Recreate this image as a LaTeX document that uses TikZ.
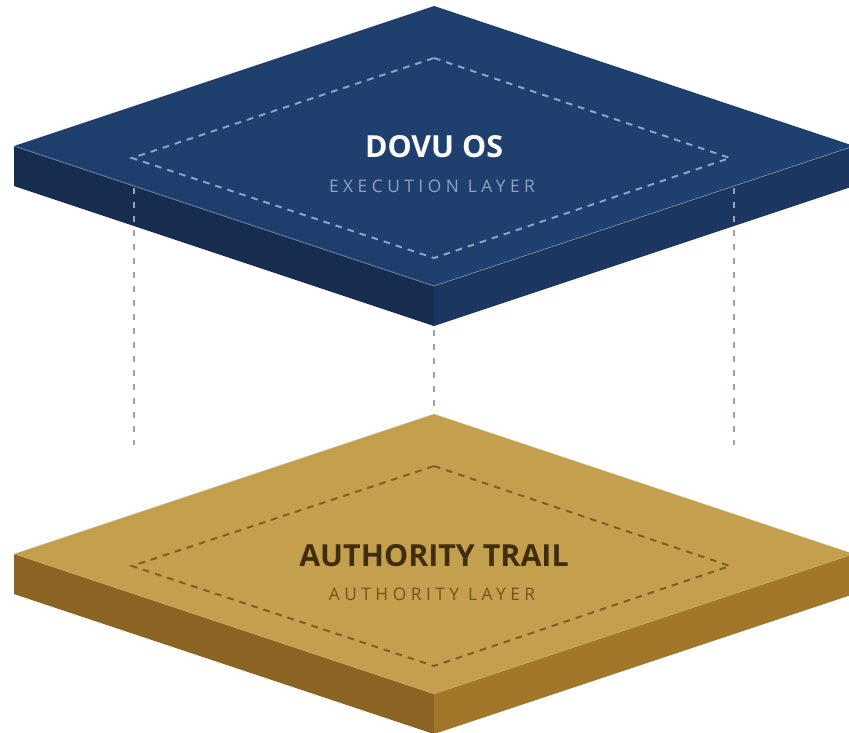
\documentclass[tikz,border=0pt]{standalone}
\usepackage{fontspec}
\setmainfont{Open Sans}
\newfontfamily\spacedfont[LetterSpace=26]{Open Sans}
\usetikzlibrary{positioning,calc}
\definecolor{navytop}{HTML}{1F3F6F}
\definecolor{navyleft}{HTML}{172D50}
\definecolor{navyright}{HTML}{1B3761}
\definecolor{navyline}{HTML}{8EA2C2}
\definecolor{goldtop}{HTML}{C4A04E}
\definecolor{goldleft}{HTML}{8B6423}
\definecolor{goldright}{HTML}{A37729}
\definecolor{goldline}{HTML}{7F5E28}
\definecolor{goldtext}{HTML}{3F2D0E}
\definecolor{goldsub}{HTML}{70551F}
\definecolor{guidegrey}{HTML}{9BA3AF}
\tikzstyle{title} = [inner sep=0pt, anchor=base, font=\fontsize{22.8}{26}\selectfont\bfseries]
\tikzstyle{sub} = [inner sep=0pt, anchor=base, font=\spacedfont\fontsize{13}{15}\selectfont]
\tikzstyle{inner} = [line width=1.5pt, dash pattern=on 5pt off 4.5pt]
\tikzstyle{guide} = [guidegrey, line width=1.6pt, dash pattern=on 4.5pt off 6pt]

\begin{document}
\begin{tikzpicture}[x=0.75pt, y=-0.75pt]
\clip (0,0) rectangle (849,732);
\fill[white] (0,0) rectangle (849,732);

% corners of the two slabs
\coordinate (ut) at (434,6);   \coordinate (ul) at (14,146);
\coordinate (ur) at (854,146); \coordinate (ub) at (434,286);
\coordinate (ubb) at (434,326);
\coordinate (lt) at (434,414); \coordinate (ll) at (14,554);
\coordinate (lr) at (854,554); \coordinate (lb) at (434,694);

% lower slab
\fill[goldleft] (ll) -- (lb) -- ($(lb)+(0,40)$) -- ($(ll)+(0,40)$) -- cycle;
\fill[goldright] (lb) -- (lr) -- ($(lr)+(0,40)$) -- ($(lb)+(0,40)$) -- cycle;
\fill[goldtop] (lt) -- (lr) -- (lb) -- (ll) -- cycle;
\draw[inner, goldline] (434,466) -- (730,566) -- (434,666) -- (132,566) -- cycle;

% upper slab
\fill[navyleft] (ul) -- (ub) -- (ubb) -- ($(ul)+(0,40)$) -- cycle;
\fill[navyright] (ub) -- (ur) -- ($(ur)+(0,40)$) -- (ubb) -- cycle;
\fill[navytop] (ut) -- (ur) -- (ub) -- (ul) -- cycle;
\draw[navytop!55!white, line width=0.4pt] (ul) -- (ub) -- (ur);
\draw[inner, navyline] (434,58) -- (730,158) -- (434,258) -- (132,158) -- cycle;

% labels
\node (os) [title, text=white] at (434,157) {DOVU OS};
\node (exec) [sub, text=navyline] at (432,192) {EXECUTION LAYER};
\node (trail) [title, text=goldtext] at (434,566) {AUTHORITY TRAIL};
\node (auth) [sub, text=goldsub] at (432,600) {AUTHORITY LAYER};

% guides between the slabs
\coordinate (gl1) at (134,188); \coordinate (gl2) at (134,445);
\coordinate (gr1) at (734,188); \coordinate (gr2) at (734,445);
\draw[guide] (gl1) -- (gl2);
\draw[guide] (gr1) -- (gr2);
\draw[guide] ($(ubb)+(0,4)$) -- ($(lt)+(0,-4)$);
\end{tikzpicture}
\end{document}
